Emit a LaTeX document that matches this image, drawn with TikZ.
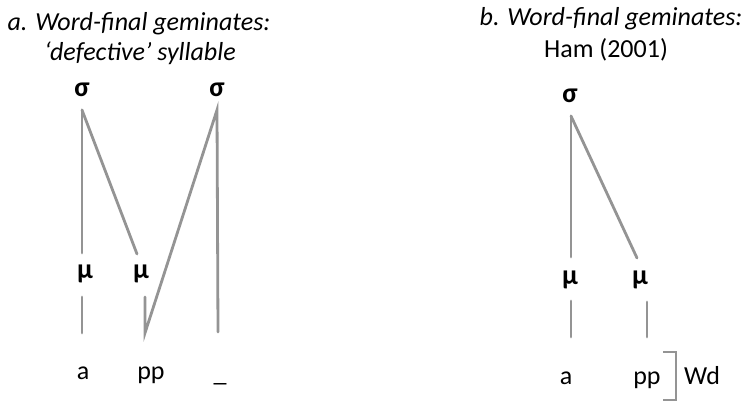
\documentclass[tikz,border=0pt]{standalone}
\usepackage{fontspec}
\setmainfont{Carlito}
\begin{document}
\begin{tikzpicture}[x=1pt,y=-1pt,
  lnk/.style={draw=black!42,line width=2.8pt,line cap=round},
  ttl/.style={font=\fontsize{26}{31}\selectfont\itshape,inner sep=0pt,anchor=base},
  sym/.style={font=\fontsize{28}{30}\selectfont\bfseries,inner sep=0pt,anchor=base},
  seg/.style={font=\fontsize{26}{30}\selectfont,inner sep=0pt,anchor=base}]
\useasboundingbox (0,0) rectangle (745,403);
% titles
\node[ttl] (ta1) at (139,31) {a. Word-final geminates:};
\node[ttl] (ta2) at (140,61) {`defective' syllable};
\node[ttl] (tb1) at (611,26) {b. Word-final geminates:};
\node[ttl,font=\fontsize{26}{31}\selectfont] (tb2) at (606,58) {Ham (2001)};
% part a
\node[sym] (s1) at (82,97) {σ};
\node[sym] (s2) at (217,97) {σ};
\node[sym] (m1) at (85,279) {μ};
\node[sym] (m2) at (141,279) {μ};
\node[seg] (a1) at (83,380) {a};
\node[seg] (p1) at (151,380) {pp};
\node[seg] (u1) at (220,382) {\_};
\coordinate (s1b) at (82,110);
\coordinate (s2b) at (217,110);
\coordinate (m1t) at (82,253);
\coordinate (m2t) at (137,254);
\coordinate (m1b) at (82,297);
\coordinate (a1t) at (82,333);
\coordinate (m2b) at (145,297);
\coordinate (p1t) at (145,333);
\coordinate (u1t) at (218,332);
\draw[lnk] (s1b) -- (m1t);
\draw[lnk] (s1b) -- (m2t);
\draw[lnk] (m1b) -- (a1t);
\draw[lnk] (m2b) -- (p1t) -- (s2b) -- (u1t);
% part b
\node[sym] (s3) at (570,103) {σ};
\node[sym] (m3) at (570,285) {μ};
\node[sym] (m4) at (640,285) {μ};
\node[seg] (a2) at (566,385) {a};
\node[seg] (p2) at (647,385) {pp};
\node[seg] (wd) at (702,385) {Wd};
\coordinate (s3b) at (571,116);
\coordinate (m3t) at (571,257);
\coordinate (m4t) at (637,258);
\coordinate (m3b) at (571,301);
\coordinate (a2t) at (571,337);
\coordinate (m4b) at (647,302);
\coordinate (p2t) at (647,337);
\draw[lnk] (s3b) -- (m3t);
\draw[lnk] (s3b) -- (m4t);
\draw[lnk] (m3b) -- (a2t);
\draw[lnk] (m4b) -- (p2t);
\coordinate (br1) at (663,352);
\coordinate (br2) at (676,352);
\coordinate (br3) at (676,400);
\coordinate (br4) at (663,400);
\draw[draw=black!42,line width=2.8pt] (br1) -- (br2) -- (br3) -- (br4);
\end{tikzpicture}
\end{document}
